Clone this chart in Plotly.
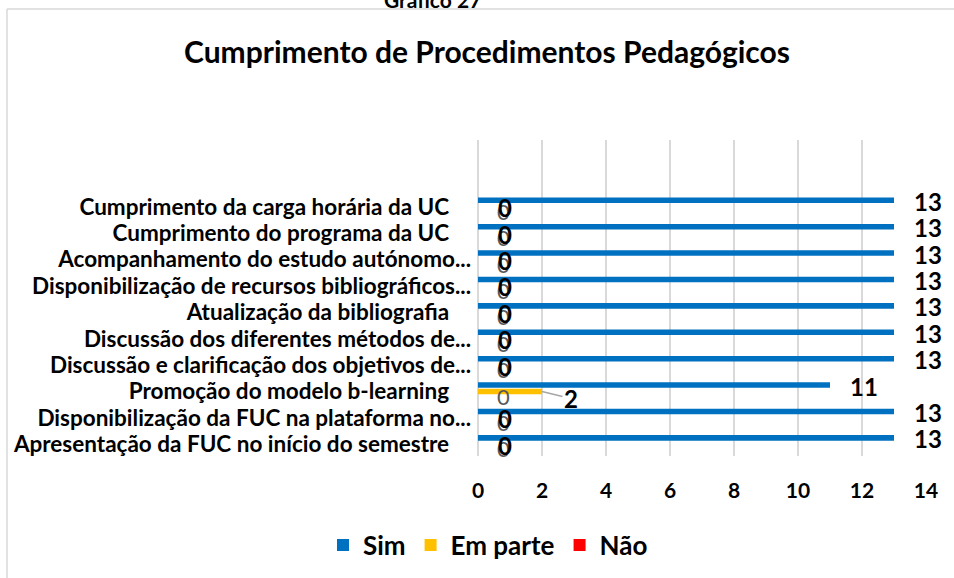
import plotly.graph_objects as go

# ---------------- data ----------------
categories = [
    "Apresentação da FUC no início do semestre",
    "Disponibilização da FUC na plataforma no...",
    "Promoção do modelo b-learning",
    "Discussão e clarificação dos objetivos de...",
    "Discussão dos diferentes métodos de...",
    "Atualização da bibliografia",
    "Disponibilização de recursos bibliográficos...",
    "Acompanhamento do estudo autónomo...",
    "Cumprimento do programa da UC",
    "Cumprimento da carga horária da UC",
]
sim = [13, 13, 11, 13, 13, 13, 13, 13, 13, 13]
em_parte = [0, 0, 2, 0, 0, 0, 0, 0, 0, 0]
nao = [0, 0, 0, 0, 0, 0, 0, 0, 0, 0]
series_names = ["Sim", "Em parte", "Não"]
x_ticks = [0, 2, 4, 6, 8, 10, 12, 14]
title_text = "Cumprimento de Procedimentos Pedagógicos"
caption_text = "Gráfico 27"

# ---------------- style ----------------
FONT = "Lato"
W, H = 954, 578
ML, MR, MT, MB = 478, 28, 140, 122
PW, PH = W - ML - MR, H - MT - MB
colors = {"Sim": "#0070C0", "Em parte": "#FFC000", "Não": "#FF0000"}
bar_w = 0.21
slot = 0.246
shifts = {"Sim": slot, "Em parte": 0.0, "Não": -slot}
values = {"Sim": sim, "Em parte": em_parte, "Não": nao}
idx = list(range(len(categories)))

fig = go.Figure()
for rank, name in enumerate(series_names):
    fig.add_trace(go.Bar(
        name=name,
        y=idx,
        x=values[name],
        orientation="h",
        width=bar_w,
        offset=shifts[name] - bar_w / 2,
        marker=dict(color=colors[name], line=dict(width=0)),
        legendrank=rank + 1,
        hoverinfo="skip",
    ))

annotations = []
# Sim labels
for i, v in zip(idx, sim):
    annotations.append(dict(
        x=v, y=i + shifts["Sim"], xref="x", yref="y", text=str(v),
        showarrow=False, xanchor="left", yanchor="middle", xshift=18, yshift=-1,
        font=dict(family=FONT, size=24, color="black", weight="bold")))
# Não labels (grey, partly hidden behind Em parte labels)
for i, v in zip(idx, nao):
    annotations.append(dict(
        x=v, y=i + shifts["Não"], xref="x", yref="y", text=str(v),
        showarrow=False, xanchor="left", yanchor="middle", xshift=17, yshift=2,
        font=dict(family=FONT, size=22, color="#595959")))
# Em parte labels
for i, v in zip(idx, em_parte):
    if v > 0:
        annotations.append(dict(
            x=v, y=i + shifts["Em parte"], xref="x", yref="y", text=str(v),
            showarrow=True, ax=29, ay=7, arrowhead=0, arrowwidth=1.5,
            arrowcolor="#A6A6A6", standoff=0,
            font=dict(family=FONT, size=24, color="black", weight="bold")))
    else:
        annotations.append(dict(
            x=v, y=i + shifts["Em parte"], xref="x", yref="y", text=str(v),
            showarrow=False, xanchor="left", yanchor="middle", xshift=18, yshift=-1,
            font=dict(family=FONT, size=24, color="black", weight="bold")))

# caption above chart (cut off at the top)
annotations.append(dict(
    x=(432 - ML) / PW, y=(H - MB + 1) / PH, xref="paper", yref="paper",
    text=caption_text, showarrow=False, xanchor="center", yanchor="middle",
    font=dict(family=FONT, size=21, color="black", weight="bold")))

tick_text = [c if c.endswith("...") else c + "\u00a0\u00a0\u00a0\u00a0" for c in categories]

frame_left = (7 - ML) / PW
frame_top = (H - MB - 9) / PH
shapes = [
    dict(type="line", xref="paper", yref="paper", x0=frame_left, x1=frame_left,
         y0=frame_top, y1=-MB / PH - 0.1, line=dict(color="#D9D9D9", width=1.5)),
    dict(type="line", xref="paper", yref="paper", x0=frame_left, x1=(W - ML) / PW + 0.1,
         y0=frame_top, y1=frame_top, line=dict(color="#D9D9D9", width=1.5)),
]

fig.update_layout(
    width=W, height=H, autosize=False,
    margin=dict(l=ML, r=MR, t=MT, b=MB, pad=0, autoexpand=False),
    paper_bgcolor="white", plot_bgcolor="white",
    barmode="overlay",
    title=dict(text=title_text, xref="container", yref="container",
               x=487 / W, y=1 - 52 / H, xanchor="center", yanchor="middle",
               font=dict(family=FONT, size=30, color="black", weight="bold")),
    xaxis=dict(range=[0, 14], tickvals=x_ticks, showgrid=True,
               gridcolor="#D9D9D9", gridwidth=1.5, zeroline=True,
               zerolinecolor="#D9D9D9", zerolinewidth=1.5, showline=False,
               ticks="", ticklabelstandoff=20, automargin=False,
               tickfont=dict(family=FONT, size=21, color="black", weight="bold")),
    yaxis=dict(range=[-0.44, 11.53], tickvals=idx, ticktext=tick_text,
               showgrid=False, zeroline=False, showline=False, ticks="",
               ticklabelstandoff=6, automargin=False,
               tickfont=dict(family=FONT, size=22.5, color="black", weight="bold")),
    legend=dict(orientation="h", x=(488 - ML) / PW, y=(H - MB - 545) / PH,
                xanchor="center", yanchor="middle",
                font=dict(family=FONT, size=26, color="black", weight="bold"),
                itemclick=False, itemdoubleclick=False),
    annotations=annotations,
    shapes=shapes,
    showlegend=True,
)

fig.write_html(
    "out.html",
    config={"displayModeBar": False, "staticPlot": True},
    post_script="document.body.style.margin='0px';document.body.style.overflow='hidden';",
)
